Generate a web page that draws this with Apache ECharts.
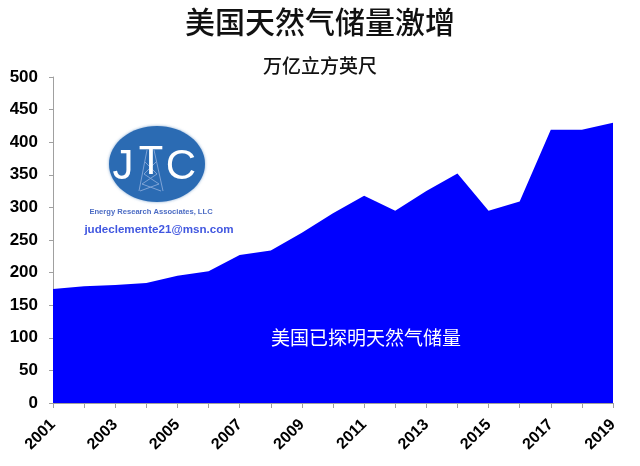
<!DOCTYPE html>
<html>
<head>
<meta charset="utf-8">
<script src="https://cdn.jsdelivr.net/npm/echarts@6/dist/echarts.min.js"></script>
<style>
html,body{margin:0;padding:0;background:#fff;}
#chart{width:640px;height:466px;}
</style>
</head>
<body>
<div id="chart"></div>
<script>
var years = ['2001','2002','2003','2004','2005','2006','2007','2008','2009','2010','2011','2012','2013','2014','2015','2016','2017','2018','2019'];
var reserves = [175, 179, 181, 184, 195, 202, 227, 234, 261, 291, 318, 295, 325, 352, 295, 309, 419, 419, 430];
var seriesName = '美国已探明天然气储量';
var titleText = '美国天然气储量激增';
var unitText = '万亿立方英尺';

var chart = echarts.init(document.getElementById('chart'));
var cjk = '"Liberation Sans", Arial, "Noto Sans CJK SC", sans-serif';
var num = '"Liberation Sans", Arial, sans-serif';
chart.setOption({
  animation: false,
  backgroundColor: '#ffffff',
  grid: {left: 53, right: 27, top: 77, bottom: 63},
  xAxis: {
    type: 'category',
    data: years,
    boundaryGap: false,
    axisLine: {lineStyle: {color: '#a0a0a0', width: 1}},
    axisTick: {show: true, interval: 0, length: 5, lineStyle: {color: '#a0a0a0'}},
    axisLabel: {interval: 1, rotate: 45, margin: 19, color: '#000', fontFamily: num, fontWeight: 'bold', fontSize: 16}
  },
  yAxis: {
    type: 'value',
    min: 0, max: 500, interval: 50,
    splitLine: {show: false},
    axisLine: {show: true, lineStyle: {color: '#a0a0a0', width: 1}},
    axisTick: {show: true, length: 4, lineStyle: {color: '#a0a0a0'}},
    axisLabel: {color: '#000', fontFamily: num, fontWeight: 'bold', fontSize: 17, margin: 15}
  },
  series: [{
    name: seriesName,
    type: 'line',
    data: reserves,
    symbol: 'none',
    lineStyle: {width: 0, color: '#0000ff'},
    areaStyle: {color: '#0000ff', opacity: 1}
  }],
  graphic: [
    {type: 'text', left: 'center', top: 10, style: {text: titleText, fontSize: 30, fontFamily: cjk, fontWeight: 500, fill: '#111'}},
    {type: 'text', left: 'center', top: 58, style: {text: unitText, fontSize: 19, fontFamily: cjk, fontWeight: 500, fill: '#111'}},
    {type: 'text', z: 100, style: {x: 366, y: 340, text: seriesName, fontSize: 19, fontFamily: cjk, fill: '#ffffff', align: 'center', verticalAlign: 'middle'}},
    {type: 'ellipse', z: 100, shape: {cx: 157, cy: 164, rx: 48, ry: 38}, style: {fill: '#2b6bb3', shadowBlur: 3, shadowColor: 'rgba(43,107,179,0.6)'}},
    {type: 'polyline', z: 101, shape: {points: [[147,150],[139,191]]}, style: {stroke: '#7ea3d6', lineWidth: 1, fill: null}},
    {type: 'polyline', z: 101, shape: {points: [[154,150],[163,191]]}, style: {stroke: '#7ea3d6', lineWidth: 1, fill: null}},
    {type: 'polyline', z: 101, shape: {points: [[145,162],[157,174],[142,184],[161,191]]}, style: {stroke: '#7ea3d6', lineWidth: 1, fill: null}},
    {type: 'polyline', z: 101, shape: {points: [[156,162],[144,174],[159,184],[140,191]]}, style: {stroke: '#7ea3d6', lineWidth: 1, fill: null}},
    {type: 'text', z: 102, style: {x: 123, y: 167, text: 'J', fontSize: 42, fontFamily: num, fill: '#ffffff', align: 'center', verticalAlign: 'middle'}},
    {type: 'text', z: 102, style: {x: 151, y: 163, text: 'T', fontSize: 40, fontFamily: num, fill: '#ffffff', align: 'center', verticalAlign: 'middle'}},
    {type: 'text', z: 102, style: {x: 181, y: 167, text: 'C', fontSize: 42, fontFamily: num, fill: '#ffffff', align: 'center', verticalAlign: 'middle'}},
    {type: 'text', z: 100, style: {x: 151, y: 212, text: 'Energy Research Associates, LLC', fontSize: 7.6, fontWeight: 'bold', fontFamily: num, fill: '#4c6cc4', align: 'center', verticalAlign: 'middle'}},
    {type: 'text', z: 100, style: {x: 159, y: 230, text: 'judeclemente21@msn.com', fontSize: 11.6, fontWeight: 'bold', fontFamily: num, fill: '#4157e0', align: 'center', verticalAlign: 'middle'}}
  ]
});
</script>
</body>
</html>
